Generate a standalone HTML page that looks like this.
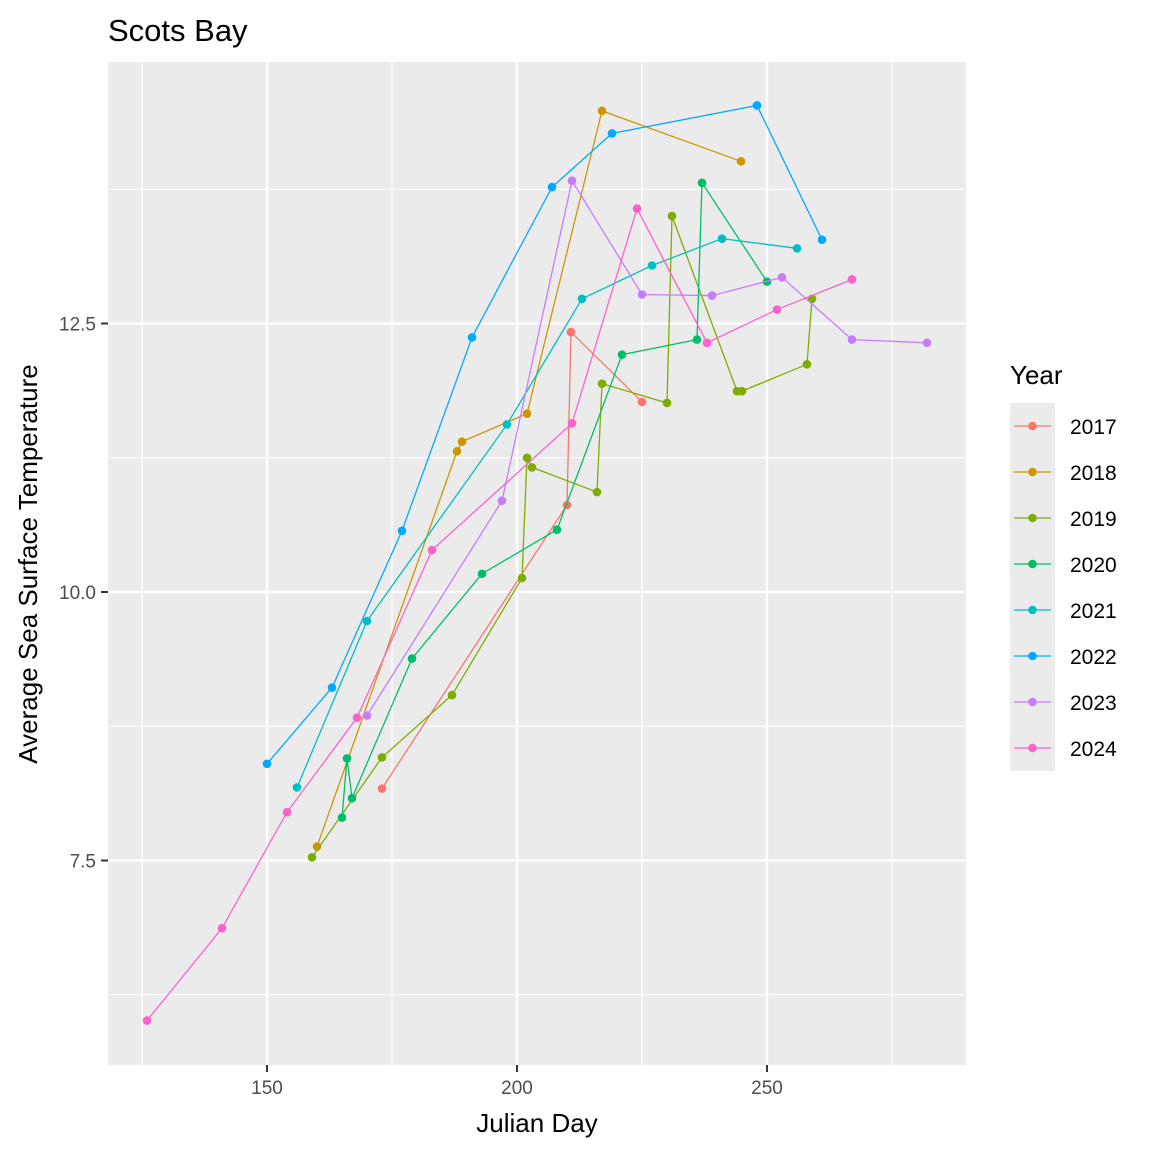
<!DOCTYPE html>
<html><head><meta charset="utf-8"><style>
html,body{margin:0;padding:0;background:#fff;}
svg text{font-family:"Liberation Sans",Arial,sans-serif;}
</style></head><body>
<svg id="chart" width="1152" height="1152" xmlns="http://www.w3.org/2000/svg">
<rect width="1152" height="1152" fill="#fff"/>
<text x="108" y="41" font-size="31">Scots Bay</text>
<rect x="108" y="62" width="858" height="1003" fill="#EBEBEB"/>
<g id="grid"></g>
<g id="series"></g>
<g id="axes"></g>
<text x="537" y="1132" font-size="26" text-anchor="middle">Julian Day</text>
<text transform="translate(37,564) rotate(-90)" font-size="26" text-anchor="middle">Average Sea Surface Temperature</text>
<g id="legend"></g>
</svg>
<script>
const years = ["2017","2018","2019","2020","2021","2022","2023","2024"];
const colors = ["#F8766D","#CD9600","#7CAE00","#00BE67","#00BFC4","#00A9FF","#C77CFF","#FF61CC"];
const days2017 = [173,210,210.8,225];
const temps2017 = [8.17,10.81,12.42,11.77];
const days2018 = [160,188,189,202,217,244.8];
const temps2018 = [7.63,11.31,11.40,11.66,14.48,14.01];
const days2019 = [159,173,187,201,202,203,216,217,230,231,244,245,258,259];
const temps2019 = [7.53,8.46,9.04,10.13,11.25,11.16,10.93,11.94,11.76,13.50,11.87,11.87,12.12,12.73];
const days2020 = [165,166,167,179,193,208,221,236,237,250];
const temps2020 = [7.90,8.45,8.08,9.38,10.17,10.58,12.21,12.35,13.81,12.89];
const days2021 = [156,170,198,213,227,241,256];
const temps2021 = [8.18,9.73,11.56,12.73,13.04,13.29,13.20];
const days2022 = [150,163,177,191,207,219,248,261];
const temps2022 = [8.40,9.11,10.57,12.37,13.77,14.27,14.53,13.28];
const days2023 = [170,197,211,225,239,253,267,282];
const temps2023 = [8.85,10.85,13.83,12.77,12.76,12.93,12.35,12.32];
const days2024 = [126,141,154,168,183,211,224,238,252,267];
const temps2024 = [6.01,6.87,7.95,8.83,10.39,11.57,13.57,12.32,12.63,12.91];
const xTicks = [150,200,250];
const xMinor = [125,175,225,275];
const yTicks = [7.5,10.0,12.5];
const yTickLabels = ["7.5","10.0","12.5"];
const yMinor = [6.25,8.75,11.25,13.75];

const allDays=[days2017,days2018,days2019,days2020,days2021,days2022,days2023,days2024];
const allTemps=[temps2017,temps2018,temps2019,temps2020,temps2021,temps2022,temps2023,temps2024];
const NS="http://www.w3.org/2000/svg";
function xs(d){return 267+(d-150)*5;}
function ys(v){return 592-(v-10)*107.4;}
function mk(tag,attrs,parent){const e=document.createElementNS(NS,tag);for(const k in attrs)e.setAttribute(k,attrs[k]);parent.appendChild(e);return e;}
const grid=document.getElementById('grid');
yMinor.forEach(v=>{const l=mk('line',{x1:108,x2:966,y1:ys(v),y2:ys(v),stroke:'#fff','stroke-width':1.1},grid);

});
xMinor.forEach(d=>{const l=mk('line',{x1:xs(d),x2:xs(d),y1:62,y2:1065,stroke:'#fff','stroke-width':1.1},grid);

});
yTicks.forEach(v=>{const l=mk('line',{x1:108,x2:966,y1:ys(v),y2:ys(v),stroke:'#fff','stroke-width':2.2},grid);

});
xTicks.forEach(d=>{const l=mk('line',{x1:xs(d),x2:xs(d),y1:62,y2:1065,stroke:'#fff','stroke-width':2.2},grid);

});
const axes=document.getElementById('axes');
xTicks.forEach(d=>{mk('line',{x1:xs(d),x2:xs(d),y1:1065,y2:1072,stroke:'#333','stroke-width':2},axes);
const t=mk('text',{x:xs(d),y:1094,'font-size':19,fill:'#4D4D4D','text-anchor':'middle'},axes);t.textContent=d;

});
yTicks.forEach((v,i)=>{mk('line',{x1:101,x2:108,y1:ys(v),y2:ys(v),stroke:'#333','stroke-width':2},axes);
const t=mk('text',{x:96,y:ys(v)+7,'font-size':19,fill:'#4D4D4D','text-anchor':'end'},axes);t.textContent=yTickLabels[i];

});
const ser=document.getElementById('series');
years.forEach((yr,i)=>{
 const g=mk('g',{},ser);
 
 
 const pts=allDays[i].map((d,j)=>xs(d)+','+ys(allTemps[i][j])).join(' ');
 const pl=mk('polyline',{points:pts,fill:'none',stroke:colors[i],'stroke-width':1.3},g);
 
 
 allDays[i].forEach((d,j)=>{const c=mk('circle',{cx:xs(d),cy:ys(allTemps[i][j]),r:4.3,fill:colors[i]},g);
 
 });
});
const leg=document.getElementById('legend');
const lt=mk('text',{x:1010,y:384,'font-size':26},leg);lt.textContent='Year';


years.forEach((yr,i)=>{const cy=426+i*46;
 const g=mk('g',{},leg);
 
 
 mk('rect',{x:1010,y:cy-23,width:45,height:46,fill:'#EBEBEB'},g);
 mk('line',{x1:1014,x2:1051,y1:cy,y2:cy,stroke:colors[i],'stroke-width':1.3},g);
 mk('circle',{cx:1032.5,cy:cy,r:4.3,fill:colors[i]},g);
 const t=mk('text',{x:1070,y:cy+8,'font-size':21},g);t.textContent=yr;});
</script>
</body></html>
